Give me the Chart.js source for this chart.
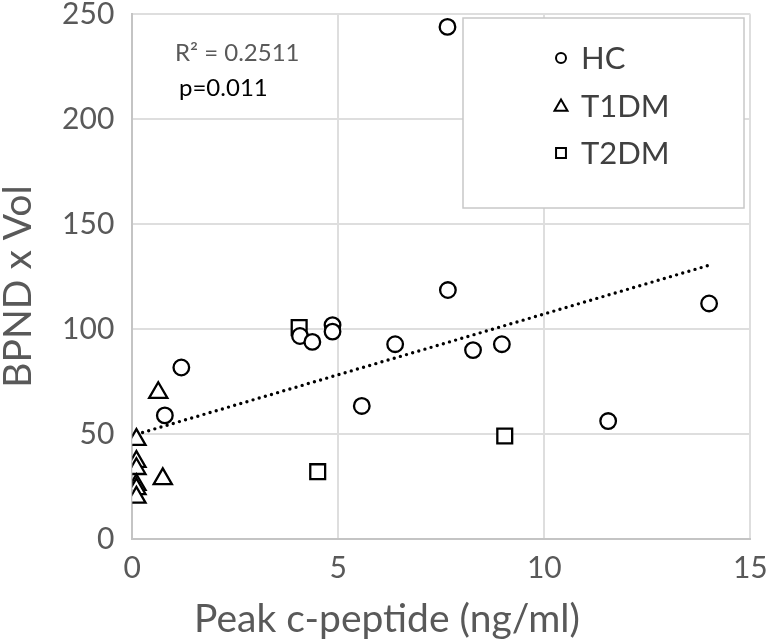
<!DOCTYPE html>
<html>
<head>
<meta charset="utf-8">
<script src="https://cdn.jsdelivr.net/npm/chart.js@4"></script>
<style>
  html, body { margin: 0; padding: 0; background: #ffffff; }
  #wrap { width: 767px; height: 642px; }
</style>
</head>
<body>
<div id="wrap"><canvas id="c" width="767" height="642"></canvas></div>
<script>
// ---- data ----
const hcX = [7.65, 14.0, 7.66, 1.19, 0.79, 4.07, 4.37, 4.86, 4.86, 6.38, 8.27, 8.97, 5.57, 11.55];
const hcY = [244, 112.3, 118.7, 81.8, 59, 96.8, 94, 102, 98.9, 92.9, 90.1, 92.9, 63.5, 56.3];
const t1X = [0.1, 0.1, 0.1, 0.1, 0.1, 0.1, 0.63, 0.74];
const t1Y = [47.5, 37, 33.6, 26, 24, 20, 69.8, 28.8];
const t2X = [4.05, 4.5, 9.04];
const t2Y = [100.8, 32.2, 49.2];
const trendX = [0.1, 14.0];
const trendY = [50, 130.5];
const xTicks = [0, 5, 10, 15];
const yTicks = [0, 50, 100, 150, 200, 250];
const seriesNames = ['HC', 'T1DM', 'T2DM'];
const xTitle = 'Peak c-peptide (ng/ml)';
const yTitle = 'BPND x Vol';
const r2Text = 'R\u00B2 = 0.2511';
const pText = 'p=0.011';

const toPts = (xs, ys) => xs.map((x, i) => ({ x: x, y: ys[i] }));
const FONT = 'Lato';

const overlay = {
  id: 'overlay',
  afterDraw(chart) {
    const ctx = chart.ctx;
    ctx.save();
    // annotation
    ctx.textAlign = 'left';
    ctx.textBaseline = 'alphabetic';
    ctx.font = '24px ' + FONT;
    ctx.fillStyle = '#595959';
    ctx.fillText(r2Text, 175, 61);
    ctx.fillStyle = '#000000';
    ctx.fillText(pText, 179, 96);

    // axis titles
    ctx.fillStyle = '#595959';
    ctx.font = '39px ' + FONT;
    ctx.textAlign = 'center';
    ctx.textBaseline = 'alphabetic';
    ctx.fillText(xTitle, 387, 632);
    ctx.save();
    ctx.translate(31, 286.5);
    ctx.rotate(-Math.PI / 2);
    ctx.fillText(yTitle, 0, 0);
    ctx.restore();

    // legend box
    ctx.fillStyle = '#ffffff';
    ctx.fillRect(463, 18, 281, 190);
    ctx.strokeStyle = '#c8c8c8';
    ctx.lineWidth = 1.5;
    ctx.strokeRect(463, 18, 281, 190);

    // legend entries
    const ys = [58, 105.5, 153];
    const styles = [['circle', 5], ['triangle', 7.5], ['rect', 7]];
    ctx.font = '31px ' + FONT;
    ctx.textAlign = 'left';
    ctx.textBaseline = 'middle';
    for (let i = 0; i < seriesNames.length; i++) {
      ctx.fillStyle = '#ffffff';
      ctx.strokeStyle = '#000000';
      ctx.lineWidth = 2;
      Chart.helpers.drawPoint(ctx, {
        pointStyle: styles[i][0], radius: styles[i][1], rotation: 0, borderWidth: 2
      }, 561, ys[i] + (i === 1 ? 1.5 : 0));
      ctx.fillStyle = '#404040';
      ctx.fillText(seriesNames[i], 581, ys[i] + 1);
    }
    ctx.restore();
  }
};

const markerBase = { borderColor: '#000000', backgroundColor: '#ffffff', borderWidth: 2.3, showLine: false };

new Chart(document.getElementById('c'), {
  type: 'scatter',
  data: {
    datasets: [
      Object.assign({ label: seriesNames[0], data: toPts(hcX, hcY), pointStyle: 'circle', pointRadius: 7.8, pointHoverRadius: 7.8 }, markerBase),
      Object.assign({ label: seriesNames[1], data: toPts(t1X, t1Y), pointStyle: 'triangle', pointRadius: 10.5, pointHoverRadius: 10.5 }, markerBase),
      Object.assign({ label: seriesNames[2], data: toPts(t2X, t2Y), pointStyle: 'rect', pointRadius: 10.5, pointHoverRadius: 10.5 }, markerBase),
      {
        label: 'trend', data: toPts(trendX, trendY), showLine: true, pointRadius: 0,
        borderColor: '#000000', borderWidth: 3.4, borderDash: [0, 6.4], borderCapStyle: 'round',
        fill: false, order: 10
      }
    ]
  },
  options: {
    responsive: false,
    devicePixelRatio: 1,
    animation: false,
    events: [],
    layout: { padding: { left: 0, top: 14.3, right: 16.7, bottom: 0 } },
    plugins: { legend: { display: false }, tooltip: { enabled: false } },
    scales: {
      x: {
        type: 'linear', min: 0, max: 15,
        afterBuildTicks(s) { s.ticks = xTicks.map(v => ({ value: v })); },
        afterFit(s) { s.height = 102.7; s.paddingLeft = 0; s.paddingRight = 0; },
        grid: { color: '#dedede', lineWidth: 2, drawTicks: false },
        border: { display: true, color: '#c4c4c4', width: 2 },
        ticks: { color: '#595959', font: { family: FONT, size: 30 }, padding: 11, maxRotation: 0 }
      },
      y: {
        type: 'linear', min: 0, max: 250,
        afterBuildTicks(s) { s.ticks = yTicks.map(v => ({ value: v })); },
        afterFit(s) { s.width = 132.3; s.paddingTop = 0; s.paddingBottom = 0; },
        grid: { color: '#dedede', lineWidth: 2, drawTicks: false },
        border: { display: true, color: '#c4c4c4', width: 2 },
        ticks: { color: '#595959', font: { family: FONT, size: 30 }, padding: 18 }
      }
    }
  },
  plugins: [overlay]
});
</script>
</body>
</html>
